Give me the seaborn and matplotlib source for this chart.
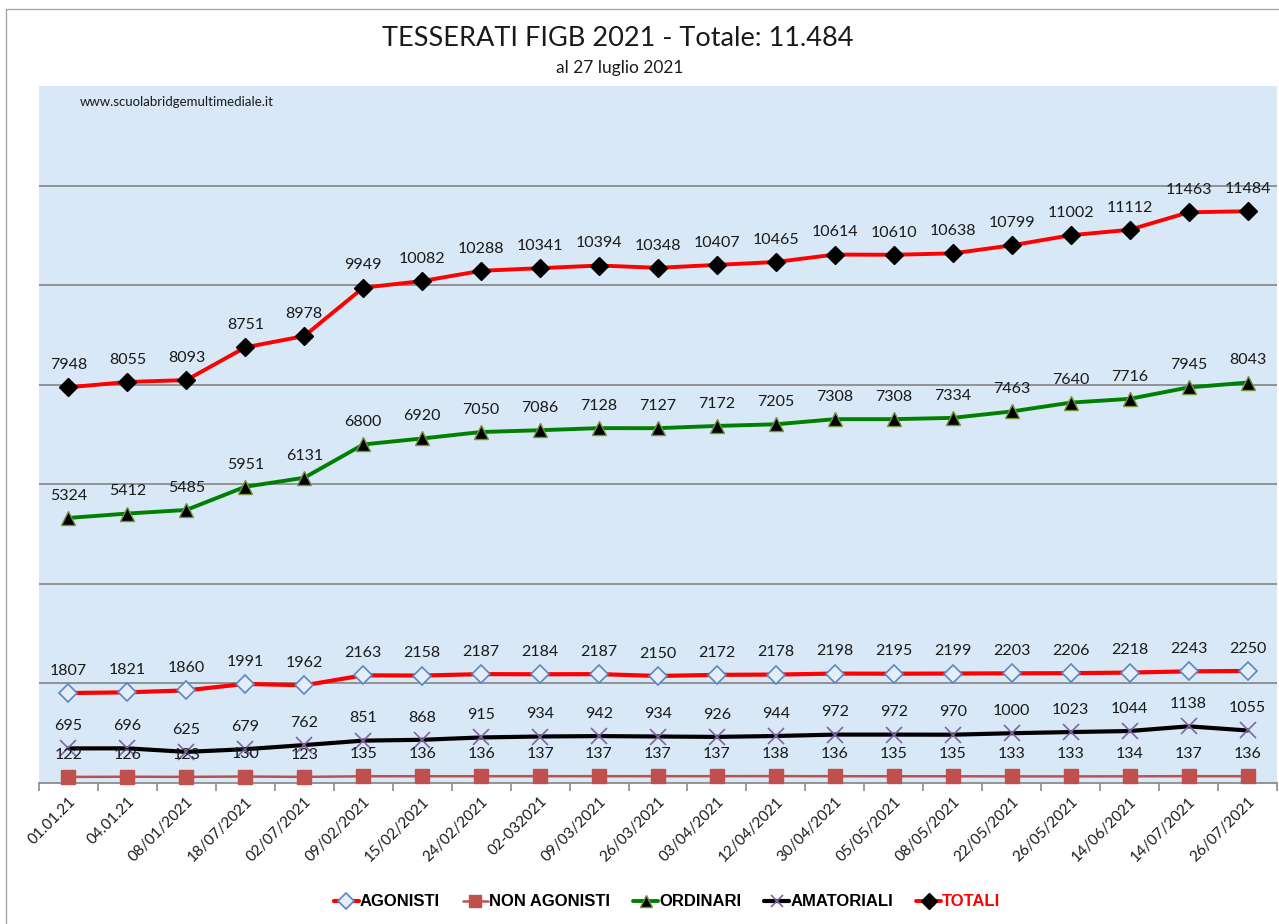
import numpy as np
import pandas as pd
import matplotlib
matplotlib.use("Agg")
import matplotlib.pyplot as plt
import seaborn as sns
from matplotlib.lines import Line2D

categories = ['01.01.21', '04.01.21', '08/01/2021', '18/07/2021', '02/07/2021', '09/02/2021',
              '15/02/2021', '24/02/2021', '02-032021', '09/03/2021', '26/03/2021', '03/04/2021',
              '12/04/2021', '30/04/2021', '05/05/2021', '08/05/2021', '22/05/2021', '26/05/2021',
              '14/06/2021', '14/07/2021', '26/07/2021']
agonisti = [1807, 1821, 1860, 1991, 1962, 2163, 2158, 2187, 2184, 2187, 2150, 2172, 2178, 2198,
            2195, 2199, 2203, 2206, 2218, 2243, 2250]
non_agonisti = [122, 126, 123, 130, 123, 135, 136, 136, 137, 137, 137, 137, 138, 136, 135, 135,
                133, 133, 134, 137, 136]
ordinari = [5324, 5412, 5485, 5951, 6131, 6800, 6920, 7050, 7086, 7128, 7127, 7172, 7205, 7308,
            7308, 7334, 7463, 7640, 7716, 7945, 8043]
amatoriali = [695, 696, 625, 679, 762, 851, 868, 915, 934, 942, 934, 926, 944, 972, 972, 970,
              1000, 1023, 1044, 1138, 1055]
totali = [7948, 8055, 8093, 8751, 8978, 9949, 10082, 10288, 10341, 10394, 10348, 10407, 10465,
          10614, 10610, 10638, 10799, 11002, 11112, 11463, 11484]

series_names = ['AGONISTI', 'NON AGONISTI', 'ORDINARI', 'AMATORIALI', 'TOTALI']
series_values = [agonisti, non_agonisti, ordinari, amatoriali, totali]

sns.set_theme(style="white")
plt.rcParams['font.family'] = ['Lato', 'DejaVu Sans']

fig = plt.figure(figsize=(12.79, 9.24), dpi=100)
ax = fig.add_axes([39 / 1279, 1 - 783 / 924, (1277 - 39) / 1279, (783 - 86) / 924])
ax.set_facecolor('#d8e8f7')

x = np.arange(len(categories))
styles = {
    'AGONISTI': dict(color='#ff0000', lw=3.0, marker='D', ms=9, mfc='#e4edf8', mec='#5b87c0', mew=1.2),
    'NON AGONISTI': dict(color='#c0504d', lw=1.8, marker='s', ms=9.5, mfc='#c0504d', mec='#c0504d', mew=1),
    'ORDINARI': dict(color='#008000', lw=2.8, marker='^', ms=10, mfc='#000000', mec='#77933c', mew=1),
    'AMATORIALI': dict(color='#000000', lw=3.0, marker='x', ms=11, mfc='#8064a2', mec='#8064a2', mew=1.2),
    'TOTALI': dict(color='#ff0000', lw=2.8, marker='D', ms=9, mfc='#000000', mec='#000000', mew=1),
}

for name, vals in zip(series_names, series_values):
    st = styles[name]
    sns.lineplot(x=x, y=vals, ax=ax, label=name, color=st['color'], linewidth=st['lw'],
                 marker=st['marker'], markersize=st['ms'], markerfacecolor=st['mfc'],
                 markeredgecolor=st['mec'], markeredgewidth=st['mew'], zorder=3,
                 legend=False, clip_on=False)
    for xi, v in zip(x, vals):
        ax.annotate(str(v), (xi, v), xytext=(0, 16), textcoords='offset points',
                    ha='center', va='center', fontsize=11.5, color='#1a1a1a', zorder=5)

ax.set_xlim(-0.5, len(categories) - 0.5)
ax.set_ylim(0, 14000)
ax.set_yticks([2000, 4000, 6000, 8000, 10000, 12000])
ax.yaxis.grid(True, color='#8c8c8c', linewidth=1.3)
ax.set_axisbelow(True)
ax.tick_params(axis='y', left=False, labelleft=False)
ax.set_xticks(x)
ax.set_xticklabels(categories, rotation=45, ha='right', rotation_mode='anchor', fontsize=11,
                   color='#1a1a1a')
ax.tick_params(axis='x', which='major', length=0, pad=8)
ax.set_xticks(np.arange(-0.5, len(categories), 1), minor=True)
ax.tick_params(axis='x', which='minor', length=6, color='#8c8c8c', width=1.2, bottom=True)
for s in ['top', 'right', 'left']:
    ax.spines[s].set_visible(False)
ax.spines['bottom'].set_color('#8c8c8c')
ax.spines['bottom'].set_linewidth(1.3)
ax.set_xlabel('')
ax.set_ylabel('')

fig.text(618 / 1279, 1 - 38 / 924, 'TESSERATI FIGB 2021 - Totale: 11.484', ha='center', va='center',
         fontsize=19.5, color='#1a1a1a')
fig.text(620 / 1279, 1 - 68 / 924, 'al 27 luglio 2021', ha='center', va='center', fontsize=12.5,
         color='#1a1a1a')
ax.text(80 / 1279, 1 - 102 / 924, 'www.scuolabridgemultimediale.it', transform=fig.transFigure,
        ha='left', va='center', fontsize=9.5, color='#1a1a1a')

# outer chart frame
fig.add_artist(Line2D([6 / 1279, 6 / 1279], [0, 1 - 9 / 924], transform=fig.transFigure,
                      color='#a6a6a6', lw=1))
fig.add_artist(Line2D([6 / 1279, 1], [1 - 9 / 924, 1 - 9 / 924], transform=fig.transFigure,
                      color='#a6a6a6', lw=1))

handles, labels = ax.get_legend_handles_labels()
leg = fig.legend(handles, labels, loc='center', bbox_to_anchor=(667 / 1279, 1 - 902 / 924), ncol=5,
                 frameon=False, handlelength=1.5, handletextpad=0.05, columnspacing=1.4,
                 prop={'family': ['Liberation Sans', 'DejaVu Sans'], 'weight': 'bold', 'size': 12})
for t in leg.get_texts():
    t.set_color('#ff0000' if t.get_text() == 'TOTALI' else '#000000')
for h in leg.legend_handles:
    h.set_markersize(h.get_markersize() * 0.85)

fig.savefig('out.png', dpi=100)
